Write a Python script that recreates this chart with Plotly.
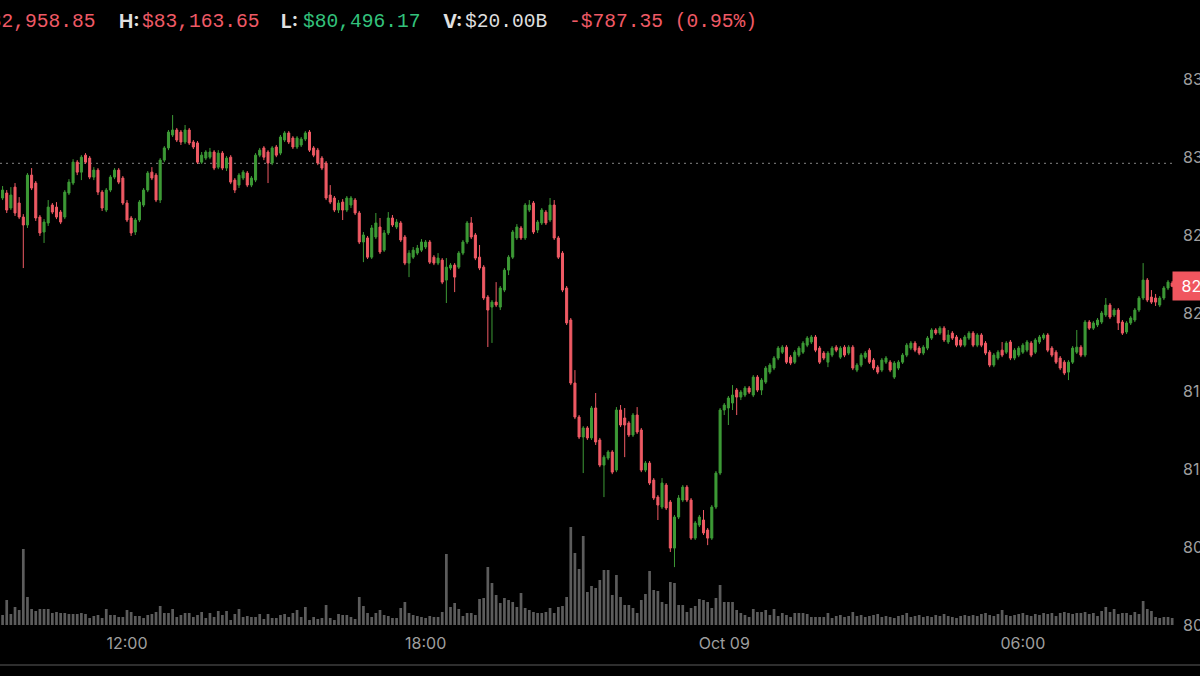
import pandas as pd
import plotly.graph_objects as go

# ---------------- data (5-minute BTC-USD candles) ----------------
START = "2025-10-08 09:30"

opens = [
    82737, 82769, 82673, 82807, 82705, 82615, 82564, 82884, 82833, 82615,
    82519, 82577, 82692, 82679, 82647, 82615, 82769, 82833, 82967, 82903,
    83012, 82993, 82871, 82916, 82775, 82660, 82788, 82871, 82916, 82865,
    82705, 82609, 82519, 82596, 82692, 82788, 82903, 82884, 82724, 82980,
    83058, 83141, 83173, 83160, 83096, 83173, 83096, 83090, 82967, 82993,
    82999, 83032, 82935, 83025, 82929, 82999, 82852, 82820, 82865, 82897,
    82820, 82852, 83012, 83058, 83032, 82961, 83064, 83025, 83109, 83154,
    83122, 83064, 83077, 83115, 83160, 83058, 83044, 82993, 82961, 82756,
    82737, 82660, 82711, 82660, 82692, 82724, 82641, 82455, 82481, 82358,
    82487, 82551, 82403, 82513, 82609, 82551, 82577, 82487, 82320, 82358,
    82384, 82403, 82423, 82455, 82358, 82320, 82339, 82211, 82288, 82307,
    82294, 82384, 82455, 82577, 82500, 82358, 82294, 82102, 82038, 82070,
    82038, 82147, 82275, 82358, 82481, 82545, 82481, 82660, 82705, 82532,
    82577, 82647, 82596, 82692, 82481, 82384, 82160, 81955, 81551, 81333,
    81205, 81263, 81199, 81391, 81186, 81025, 81070, 81109, 80993, 81378,
    81327, 81295, 81218, 81346, 81250, 80993, 81038, 80929, 80820, 80756,
    80897, 80788, 80493, 80692, 80801, 80884, 80801, 80557, 80641, 80673,
    80609, 80557, 80756, 80974, 81378, 81391, 81423, 81506, 81461, 81474,
    81519, 81474, 81589, 81506, 81557, 81621, 81647, 81711, 81749, 81781,
    81717, 81685, 81730, 81749, 81794, 81814, 81846, 81775, 81743, 81685,
    81730, 81781, 81717, 81781, 81743, 81781, 81634, 81666, 81717, 81762,
    81698, 81653, 81634, 81685, 81685, 81589, 81647, 81685, 81730, 81775,
    81807, 81775, 81743, 81775, 81839, 81891, 81871, 81903, 81814, 81871,
    81846, 81827, 81794, 81839, 81871, 81794, 81859, 81807, 81749, 81666,
    81711, 81762, 81749, 81814, 81711, 81730, 81749, 81762, 81807, 81749,
    81814, 81839, 81859, 81775, 81749, 81711, 81685, 81621, 81685, 81749,
    81781, 81730, 81942, 81903, 81923, 81942, 81987, 82051, 81987, 82019,
    81942, 81878, 81936, 81955, 82019, 82096, 82211, 82102, 82096, 82051,
    82096, 82160, 82192,
]

closes = [
    82788, 82660, 82756, 82641, 82615, 82564, 82884, 82801, 82609, 82513,
    82583, 82679, 82647, 82615, 82583, 82775, 82839, 82967, 82903, 82999,
    82967, 82871, 82916, 82775, 82673, 82788, 82871, 82916, 82839, 82705,
    82596, 82513, 82596, 82711, 82788, 82897, 82865, 82724, 82980, 83058,
    83160, 83173, 83109, 83096, 83173, 83090, 83064, 82967, 83012, 83032,
    83032, 82929, 83025, 82929, 82993, 82839, 82788, 82884, 82903, 82820,
    82865, 83012, 83044, 82999, 82961, 83058, 83012, 83128, 83154, 83096,
    83064, 83122, 83115, 83154, 83044, 83012, 82961, 82929, 82737, 82711,
    82660, 82705, 82660, 82737, 82737, 82641, 82455, 82500, 82358, 82545,
    82577, 82391, 82513, 82609, 82564, 82583, 82468, 82320, 82384, 82403,
    82416, 82455, 82455, 82326, 82320, 82352, 82198, 82294, 82307, 82230,
    82384, 82455, 82577, 82487, 82352, 82288, 82096, 82019, 82070, 82051,
    82160, 82275, 82358, 82519, 82551, 82481, 82692, 82692, 82519, 82583,
    82660, 82577, 82692, 82481, 82358, 82147, 81936, 81551, 81333, 81205,
    81263, 81199, 81391, 81173, 81025, 81076, 81109, 80980, 81378, 81282,
    81282, 81218, 81346, 81237, 80993, 81038, 80910, 80814, 80769, 80910,
    80750, 80493, 80692, 80814, 80884, 80801, 80557, 80654, 80692, 80590,
    80557, 80756, 80974, 81378, 81410, 81455, 81474, 81461, 81493, 81519,
    81493, 81589, 81506, 81570, 81647, 81666, 81711, 81775, 81781, 81685,
    81679, 81749, 81775, 81807, 81839, 81846, 81762, 81685, 81711, 81743,
    81775, 81762, 81775, 81730, 81781, 81647, 81666, 81730, 81743, 81685,
    81647, 81621, 81698, 81711, 81634, 81679, 81685, 81730, 81794, 81807,
    81762, 81743, 81781, 81839, 81891, 81871, 81903, 81827, 81859, 81839,
    81794, 81794, 81846, 81871, 81794, 81859, 81794, 81743, 81666, 81730,
    81749, 81730, 81807, 81711, 81762, 81775, 81794, 81814, 81730, 81827,
    81846, 81859, 81762, 81730, 81685, 81647, 81615, 81685, 81775, 81781,
    81730, 81942, 81903, 81936, 81955, 82000, 82051, 81974, 82019, 81936,
    81871, 81936, 81968, 82019, 82096, 82211, 82083, 82070, 82070, 82096,
    82160, 82198, 82171.5,
]

highs = [
    82814, 82788, 82807, 82833, 82743, 82634, 82897, 82929, 82846, 82628,
    82602, 82724, 82705, 82711, 82660, 82788, 82858, 82986, 82980, 83012,
    83025, 83006, 82935, 82929, 82788, 82801, 82884, 82929, 82929, 82878,
    82724, 82622, 82609, 82724, 82801, 82910, 82935, 82897, 82993, 83070,
    83173, 83269, 83186, 83173, 83205, 83186, 83109, 83102, 83032, 83044,
    83058, 83044, 83044, 83038, 83006, 83012, 82865, 82897, 82916, 82910,
    82878, 83025, 83058, 83070, 83044, 83070, 83077, 83141, 83166, 83166,
    83134, 83134, 83128, 83166, 83173, 83070, 83058, 83006, 82974, 82820,
    82750, 82724, 82730, 82750, 82750, 82737, 82654, 82519, 82494, 82564,
    82641, 82609, 82532, 82647, 82628, 82602, 82590, 82500, 82403, 82423,
    82436, 82474, 82468, 82468, 82371, 82384, 82352, 82352, 82320, 82320,
    82397, 82468, 82590, 82615, 82513, 82436, 82307, 82115, 82083, 82198,
    82173, 82288, 82371, 82532, 82570, 82558, 82705, 82724, 82718, 82596,
    82673, 82660, 82737, 82724, 82494, 82397, 82173, 81968, 81634, 81346,
    81275, 81275, 81404, 81487, 81199, 81089, 81121, 81121, 81397, 81410,
    81391, 81307, 81359, 81397, 81263, 81051, 81051, 80942, 80833, 80942,
    80910, 80801, 80705, 80833, 80897, 80897, 80814, 80667, 80705, 80737,
    80622, 80769, 80987, 81391, 81423, 81468, 81538, 81519, 81506, 81532,
    81532, 81602, 81602, 81583, 81660, 81679, 81724, 81788, 81794, 81794,
    81730, 81762, 81788, 81820, 81852, 81859, 81859, 81788, 81756, 81756,
    81788, 81794, 81788, 81794, 81794, 81794, 81679, 81743, 81756, 81775,
    81711, 81666, 81711, 81724, 81698, 81692, 81698, 81743, 81807, 81820,
    81820, 81788, 81794, 81852, 81903, 81903, 81916, 81916, 81891, 81884,
    81859, 81839, 81859, 81884, 81884, 81871, 81871, 81820, 81762, 81743,
    81762, 81814, 81820, 81827, 81775, 81788, 81807, 81827, 81820, 81839,
    81859, 81871, 81871, 81788, 81762, 81724, 81698, 81698, 81788, 81891,
    81794, 81955, 81955, 81948, 81968, 82013, 82096, 82064, 82032, 82032,
    81955, 81948, 81980, 82032, 82109, 82320, 82224, 82147, 82122, 82109,
    82173, 82211, 82205,
]

lows = [
    82724, 82641, 82660, 82622, 82602, 82288, 82545, 82788, 82590, 82494,
    82449, 82558, 82634, 82602, 82570, 82602, 82756, 82820, 82884, 82852,
    82955, 82858, 82852, 82756, 82654, 82647, 82775, 82858, 82826, 82692,
    82583, 82494, 82500, 82583, 82679, 82775, 82852, 82711, 82705, 82967,
    83044, 83128, 83096, 83077, 83083, 83077, 83051, 82955, 82955, 82980,
    82986, 82916, 82922, 82916, 82910, 82826, 82769, 82801, 82852, 82807,
    82807, 82839, 82999, 82980, 82833, 82948, 82999, 83012, 83096, 83083,
    83051, 83051, 83064, 83102, 83032, 82999, 82948, 82916, 82724, 82698,
    82647, 82641, 82596, 82647, 82673, 82628, 82442, 82326, 82346, 82346,
    82474, 82378, 82391, 82500, 82551, 82538, 82455, 82307, 82230, 82346,
    82371, 82391, 82410, 82314, 82307, 82307, 82185, 82064, 82275, 82134,
    82282, 82371, 82442, 82474, 82339, 82275, 82083, 81782, 81808, 82038,
    82019, 82134, 82243, 82346, 82468, 82468, 82468, 82647, 82506, 82513,
    82564, 82564, 82583, 82468, 82346, 82134, 81923, 81538, 81320, 81192,
    80974, 81186, 81186, 81154, 81012, 80820, 81057, 80967, 80980, 81269,
    81076, 81205, 81205, 81224, 80980, 80980, 80897, 80801, 80673, 80743,
    80737, 80468, 80371, 80679, 80788, 80788, 80545, 80545, 80628, 80577,
    80512, 80545, 80743, 80961, 81346, 81282, 81378, 81346, 81442, 81461,
    81481, 81461, 81493, 81474, 81545, 81608, 81634, 81698, 81737, 81673,
    81666, 81673, 81717, 81737, 81781, 81801, 81749, 81673, 81698, 81653,
    81717, 81749, 81705, 81717, 81730, 81634, 81621, 81653, 81705, 81673,
    81634, 81608, 81621, 81673, 81621, 81577, 81634, 81673, 81717, 81762,
    81749, 81730, 81730, 81762, 81827, 81859, 81859, 81814, 81801, 81827,
    81781, 81781, 81781, 81827, 81781, 81781, 81781, 81730, 81653, 81653,
    81698, 81717, 81737, 81698, 81698, 81717, 81737, 81749, 81717, 81737,
    81801, 81827, 81749, 81717, 81673, 81634, 81602, 81570, 81673, 81737,
    81717, 81717, 81891, 81891, 81910, 81929, 81974, 81961, 81974, 81891,
    81859, 81865, 81923, 81942, 82006, 82083, 82070, 82058, 82045, 82038,
    82083, 82147, 82166,
]

volumes = [
    10, 25, 11, 18, 15, 76, 28, 16, 14, 16,
    16, 16, 12, 13, 12, 12, 11, 11, 11, 12,
    11, 7, 9, 10, 7, 16, 10, 10, 8, 8,
    15, 13, 9, 9, 7, 10, 11, 13, 19, 12,
    12, 16, 8, 10, 12, 12, 8, 10, 13, 7,
    12, 8, 14, 10, 14, 5, 11, 16, 8, 9,
    8, 8, 11, 6, 11, 7, 7, 10, 11, 8,
    12, 15, 8, 18, 5, 8, 6, 7, 20, 7,
    5, 11, 10, 10, 8, 6, 28, 19, 12, 8,
    12, 15, 10, 9, 7, 7, 17, 23, 12, 10,
    9, 8, 7, 9, 8, 8, 13, 71, 18, 22,
    16, 9, 12, 12, 10, 26, 27, 58, 42, 30,
    22, 27, 25, 23, 18, 32, 17, 15, 13, 12,
    12, 13, 17, 12, 18, 19, 28, 98, 72, 56,
    89, 33, 39, 37, 45, 55, 55, 30, 50, 28,
    20, 20, 17, 12, 25, 31, 54, 35, 34, 23,
    21, 43, 42, 20, 20, 13, 17, 19, 26, 25,
    23, 17, 27, 40, 23, 23, 23, 15, 12, 10,
    8, 16, 13, 13, 15, 10, 16, 9, 12, 10,
    8, 12, 12, 12, 11, 8, 8, 8, 8, 12,
    7, 9, 10, 8, 9, 13, 9, 10, 8, 9,
    10, 11, 8, 9, 8, 7, 9, 10, 12, 8,
    9, 10, 8, 9, 8, 10, 9, 11, 9, 8,
    7, 9, 10, 9, 10, 9, 11, 12, 10, 9,
    11, 15, 10, 9, 10, 11, 12, 10, 9, 11,
    10, 12, 11, 12, 9, 12, 13, 12, 11, 12,
    12, 13, 11, 12, 9, 14, 18, 13, 16, 11,
    12, 12, 10, 13, 11, 24, 16, 14, 8, 7,
    8, 8, 7,
]

open_ref = 82958.85
last_price = 82171.50

price_ticks = [80000, 80500, 81000, 81500, 82000, 82500, 83000, 83500]
price_tick_text = ["80,000.00", "80,500.00", "81,000.00", "81,500.00",
                   "82,000.00", "82,500.00", "83,000.00", "83,500.00"]
time_ticks = ["2025-10-08 12:00", "2025-10-08 18:00", "2025-10-09 00:00", "2025-10-09 06:00"]
time_tick_text = ["12:00", "18:00", "Oct 09", "06:00"]

header_open = "$82,958.85"
header_high = "$83,163.65"
header_low = "$80,496.17"
header_vol = "$20.00B"
header_change = "-$787.35 (0.95%)"

# ---------------- styling / layout constants ----------------
W, H = 1200, 676
M_R, M_B = 24, 44
PLOT_W, PLOT_H = W - M_R, H - M_B

GREEN = "#3d9a36"
RED = "#ef5a64"
TXT_RED = "#ef5a66"
TXT_GREEN = "#33c27c"
VOL = "#5c5c5c"
AXIS_TXT = "#9e9e9e"

# price scale: 500 per 78 px, 83,000 at 157 px from top
per_px = 500 / 78
y_top = 83000 + 157 * per_px
y_bot = 83000 - (PLOT_H - 157) * per_px

# time scale: ~49.77 px per hour, 12:00 at 127 px
px_per_hour = 49.77
anchor = pd.Timestamp("2025-10-08 12:00")
x_lo = anchor - pd.Timedelta(hours=127 / px_per_hour)
x_hi = anchor + pd.Timedelta(hours=(PLOT_W - 127) / px_per_hour)

times = pd.date_range(START, periods=len(closes), freq="5min")


def px_x(p):
    return p / PLOT_W


def px_y(p):
    return 1 - p / PLOT_H


fig = go.Figure()

fig.add_trace(go.Bar(
    x=times, y=volumes, yaxis="y2",
    marker=dict(color=VOL, line=dict(width=0)),
    hoverinfo="skip",
))

fig.add_trace(go.Candlestick(
    x=times, open=opens, high=highs, low=lows, close=closes,
    increasing=dict(line=dict(color=GREEN, width=1), fillcolor=GREEN),
    decreasing=dict(line=dict(color=RED, width=1), fillcolor=RED),
    whiskerwidth=0,
))

annotations = []


def add_text(x, text, color, family, size, anchor="left"):
    annotations.append(dict(
        xref="paper", yref="paper", x=px_x(x), y=px_y(22),
        xanchor=anchor, yanchor="middle", showarrow=False,
        text=text, font=dict(family=family, size=size, color=color),
        borderpad=0,
    ))


MONO = "Liberation Mono"
SANS = "Inter"
add_text(97, header_open, TXT_RED, MONO, 19.6, anchor="right")
add_text(118, "<b>H:</b>", "#e0e0e0", SANS, 19)
add_text(141, header_high, TXT_RED, MONO, 19.6)
add_text(280, "<b>L:</b>", "#e0e0e0", SANS, 19)
add_text(302, header_low, TXT_GREEN, MONO, 19.6)
add_text(442, "<b>V:</b>", "#e0e0e0", SANS, 19)
add_text(464, header_vol, "#dedede", MONO, 19.6)
add_text(568, header_change, TXT_RED, MONO, 19.6)

# current price tag on the right edge
annotations.append(dict(
    xref="paper", yref="y", x=px_x(1172), y=last_price,
    xanchor="left", yanchor="middle", showarrow=False,
    text="\u00a0" + f"{last_price:,.2f}", font=dict(family=SANS, size=16, color="#ffffff"),
    bgcolor="#f0565f", borderpad=4,
))

shapes = [
    dict(type="line", xref="paper", yref="y", x0=0, x1=1, y0=open_ref, y1=open_ref,
         line=dict(color="#6a6a6a", width=1.3, dash="2px,4px"), layer="below"),
    dict(type="line", xref="paper", yref="paper", x0=0, x1=W / PLOT_W,
         y0=px_y(665), y1=px_y(665), line=dict(color="#2e2e2e", width=2)),
]

fig.update_layout(
    width=W, height=H,
    margin=dict(l=0, r=M_R, t=0, b=M_B, pad=0),
    paper_bgcolor="#000000", plot_bgcolor="#000000",
    showlegend=False, bargap=0.35, boxgap=0.3,
    annotations=annotations, shapes=shapes,
    xaxis=dict(
        type="date", range=[x_lo, x_hi], rangeslider=dict(visible=False),
        tickvals=time_ticks, ticktext=time_tick_text,
        showgrid=False, zeroline=False, showline=False, ticks="",
        tickfont=dict(family=SANS, size=16, color=AXIS_TXT), automargin=False,
    ),
    yaxis=dict(
        side="right", range=[y_bot, y_top],
        tickvals=price_ticks, ticktext=price_tick_text,
        showgrid=False, zeroline=False, showline=False, ticks="",
        ticklabelstandoff=6,
        tickfont=dict(family=SANS, size=16, color=AXIS_TXT), automargin=False,
    ),
    yaxis2=dict(
        overlaying="y", range=[-7, PLOT_H - 7], visible=False, fixedrange=True,
    ),
)

fig.write_html("out.html")
